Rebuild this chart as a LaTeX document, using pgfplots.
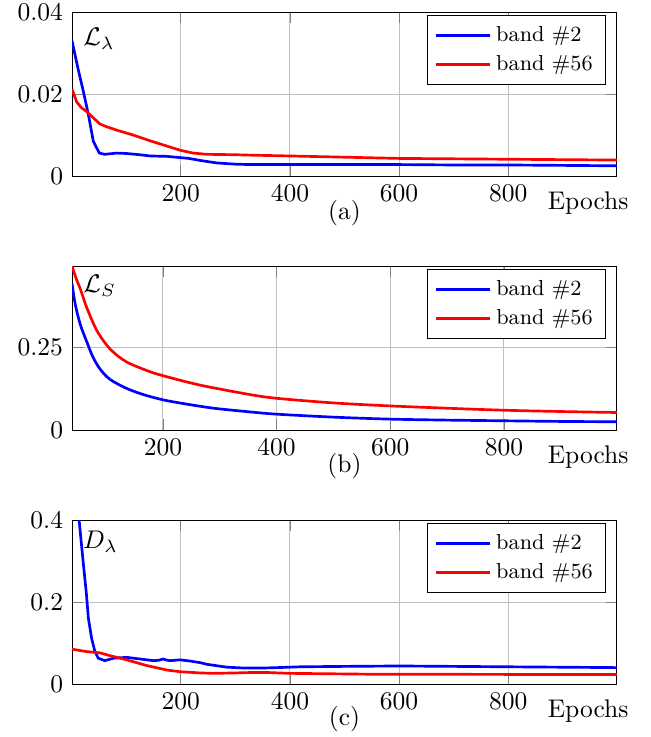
\documentclass[border=0pt]{standalone}
\usepackage{pgfplots}
\pgfplotsset{compat=1.18}
\begin{document}
\begin{tikzpicture}
\useasboundingbox (-28.24pt,-20.78pt) rectangle (226.67pt,268.24pt);
\pgfplotsset{
  lossaxis/.style={
    scale only axis,
    width=213.7pt,
    height=64.3pt,
    anchor=south west,
    xmax=999,
    xtick={200,400,600,800},
    scaled y ticks=false,
    grid=major,
    xlabel={Epochs},
    xlabel style={at={(rel axis cs:1,0)}, anchor=north east, xshift=8pt, yshift=-2.8pt},
    legend style={font=\fontsize{8.5}{10}\selectfont, at={(0.98,0.98)}, anchor=north east},
    legend cell align=left,
    legend image code/.code={\draw[##1] (0pt,0pt) -- (21pt,0pt);},
    every axis plot/.append style={line width=1.05pt},
  },
}

% (a)
\begin{axis}[lossaxis, name=pa, at={(0pt,199.2pt)},
  xmin=1, ymin=0, ymax=0.04,
  ytick={0,0.02,0.04}, yticklabels={0,0.02,0.04}]
\addplot[blue] coordinates {
(1,0.0330)(12,0.0262)(22,0.0205)(31,0.0150)(40,0.0085)(51,0.0056)(61,0.0053)
(83,0.0056)(101,0.0055)(125,0.0052)(144,0.0049)(175,0.0048)(199,0.0045)
(215,0.0043)(236,0.0038)(266,0.0032)(300,0.0029)(327,0.0028)(400,0.0028)
(500,0.0028)(600,0.0028)(700,0.0027)(800,0.0027)(900,0.0026)(999,0.0025)};
\addlegendentry{band \#2}
\addplot[red] coordinates {
(1,0.0212)(9.5,0.0181)(18,0.0167)(28,0.0157)(40,0.0142)(52,0.0127)(65,0.0120)
(83,0.0112)(113,0.0100)(144,0.0086)(175,0.0073)(199,0.0063)(223,0.0056)
(248,0.0053)(300,0.0052)(327,0.0051)(400,0.0049)(500,0.0046)(600,0.0043)
(700,0.0042)(800,0.0041)(900,0.0040)(999,0.0039)};
\addlegendentry{band \#56}
\node[anchor=north west, inner sep=0pt, xshift=4.3pt, yshift=-6pt] at (rel axis cs:0,1) {$\mathcal{L}_\lambda$};
\end{axis}
\node[yshift=-14.5pt] at (pa.south) {(a)};

% (b)
\begin{axis}[lossaxis, name=pb, at={(0pt,99.6pt)},
  xmin=40, ymin=0, ymax=0.496,
  ytick={0,0.25}, yticklabels={0,0.25}]
\addplot[blue, smooth] coordinates {
(40,0.443)(46,0.378)(55,0.317)(66,0.267)(77,0.220)(90,0.183)(107,0.153)
(136,0.126)(166,0.107)(201,0.091)(236,0.080)(265,0.072)(294,0.065)(352,0.055)
(400,0.048)(500,0.039)(599,0.033)(700,0.030)(798,0.028)(900,0.026)(999,0.025)};
\addlegendentry{band \#2}
\addplot[red, smooth] coordinates {
(40,0.496)(48,0.455)(55,0.425)(66,0.370)(84,0.300)(107,0.245)(136,0.206)
(178,0.176)(201,0.164)(236,0.148)(265,0.136)(294,0.126)(354,0.107)(400,0.096)
(500,0.082)(599,0.073)(700,0.066)(798,0.060)(900,0.056)(999,0.053)};
\addlegendentry{band \#56}
\node[anchor=north west, inner sep=0pt, xshift=4.3pt, yshift=-3.5pt] at (rel axis cs:0,1) {$\mathcal{L}_S$};
\end{axis}
\node[yshift=-14pt] at (pb.south) {(b)};

% (c)
\begin{axis}[lossaxis, name=pc, at={(0pt,0pt)},
  xmin=1, ymin=0, ymax=0.4,
  ytick={0,0.2,0.4}, yticklabels={0,0.2,0.4}]
\addplot[blue] coordinates {
(1,0.58)(14,0.40)(22,0.29)(27,0.225)(31,0.16)(37,0.111)(43,0.079)(49,0.063)
(61,0.057)(77,0.063)(101,0.065)(126,0.061)(150,0.057)(160,0.058)(168,0.061)
(175,0.058)(181,0.057)(199,0.059)(217,0.056)(236,0.052)(248,0.048)(285,0.041)
(316,0.039)(350,0.039)(377,0.040)(419,0.042)(500,0.043)(600,0.044)(700,0.043)
(799,0.042)(900,0.041)(999,0.040)};
\addlegendentry{band \#2}
\addplot[red] coordinates {
(1,0.085)(28,0.079)(52,0.076)(71,0.069)(101,0.059)(138,0.045)(175,0.034)
(199,0.030)(236,0.027)(260,0.026)(300,0.027)(327,0.028)(360,0.028)(400,0.026)
(541,0.024)(600,0.024)(799,0.0234)(999,0.0234)};
\addlegendentry{band \#56}
\node[anchor=north west, inner sep=0pt, xshift=4.2pt, yshift=-4pt] at (rel axis cs:0,1) {$D_\lambda$};
\end{axis}
\node[yshift=-13.8pt] at (pc.south) {(c)};
\end{tikzpicture}
\end{document}
